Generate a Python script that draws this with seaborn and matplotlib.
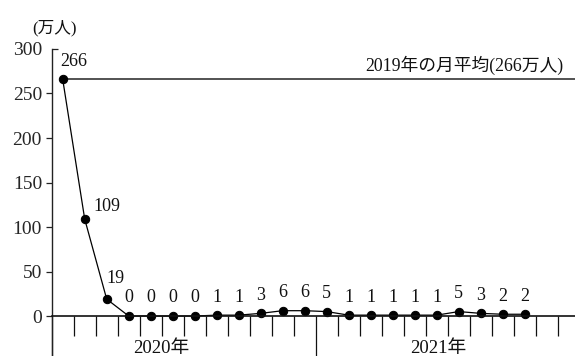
import numpy as np
import matplotlib
matplotlib.use("Agg")
import matplotlib.pyplot as plt
import matplotlib.lines as mlines
import seaborn as sns

# Monthly visitors (10k persons), Jan 2020 - Oct 2021
months = ["2020-01", "2020-02", "2020-03", "2020-04", "2020-05", "2020-06",
          "2020-07", "2020-08", "2020-09", "2020-10", "2020-11", "2020-12",
          "2021-01", "2021-02", "2021-03", "2021-04", "2021-05", "2021-06",
          "2021-07", "2021-08", "2021-09", "2021-10"]
visitors = [266, 109, 19, 0, 0, 0, 0, 1, 1, 3, 6, 6,
            5, 1, 1, 1, 1, 1, 5, 3, 2, 2]
avg_2019 = 266
avg_label = "2019年の月平均(266万人)"
year_labels = ["2020年", "2021年"]
y_ticks = [0, 50, 100, 150, 200, 250, 300]
unit_label = "(万人)"

sns.set_theme(style="white")
plt.rcParams["font.family"] = ["Liberation Serif", "Noto Sans CJK JP"]
plt.rcParams["font.size"] = 12

fig = plt.figure(figsize=(5.75, 3.56), dpi=100)
ax = fig.add_axes([0.0899, 0.0, 0.9183, 0.8624])

n_slots = 24
x = np.arange(len(visitors)) + 0.5
sns.lineplot(x=x, y=visitors, ax=ax, color="black", linewidth=0.9,
             marker="o", markersize=6, markeredgecolor="black",
             markerfacecolor="black")

# 2019 monthly average reference line
ax.hlines(avg_2019, x[0], n_slots, color="#444444", linewidth=1.3, zorder=1)
ax.annotate(avg_label, xy=(23.24, avg_2019), xytext=(0, 10),
            textcoords="offset points", ha="right", va="center",
            fontsize=12.8, color="#111111")

# value labels
offsets = {0: (8, 13), 1: (16, 9), 2: (6.5, 15)}
for i, (xi, v) in enumerate(zip(x, visitors)):
    dx, dy = offsets.get(i, (0, 13))
    ax.annotate(str(v), xy=(xi, v), xytext=(dx, dy),
                textcoords="offset points", ha="center", va="center",
                fontsize=13, color="#111111")

ax.set_xlim(0, n_slots)
ax.set_ylim(-44.9, 300)

for side in ["top", "right"]:
    ax.spines[side].set_visible(False)
ax.spines["left"].set_color("#222222")
ax.spines["left"].set_linewidth(1.0)
ax.spines["bottom"].set_position(("data", 0))
ax.spines["bottom"].set_color("#111111")
ax.spines["bottom"].set_linewidth(1.2)

ax.set_yticks(y_ticks)
ax.set_yticklabels([str(t) for t in y_ticks])
ax.tick_params(axis="y", direction="out", length=4, width=0.9,
               color="#222222", pad=3, labelsize=14, left=True)
# the top tick points inward
top_tick = ax.yaxis.get_major_ticks()[-1]
top_tick.tick1line.set_marker(mlines.TICKRIGHT)

ax.set_xticks([0, 12, 24])
ax.set_xticks([m for m in range(1, n_slots) if m != 12], minor=True)
ax.set_xticklabels([])
ax.tick_params(axis="x", which="major", direction="out", length=30,
               width=0.9, color="#111111", bottom=True)
ax.tick_params(axis="x", which="minor", direction="out", length=14.4,
               width=0.9, color="#111111", bottom=True)

for pos, lab in zip([5.0, 17.55], year_labels):
    ax.text(pos, -36, lab, ha="center", va="center", fontsize=13.5,
            color="#111111")

fig.text(54.5 / 575, 1 - 28 / 356, unit_label, ha="center", va="center",
         fontsize=12, color="#111111")

ax.grid(False)
fig.savefig("out.png", dpi=100)
